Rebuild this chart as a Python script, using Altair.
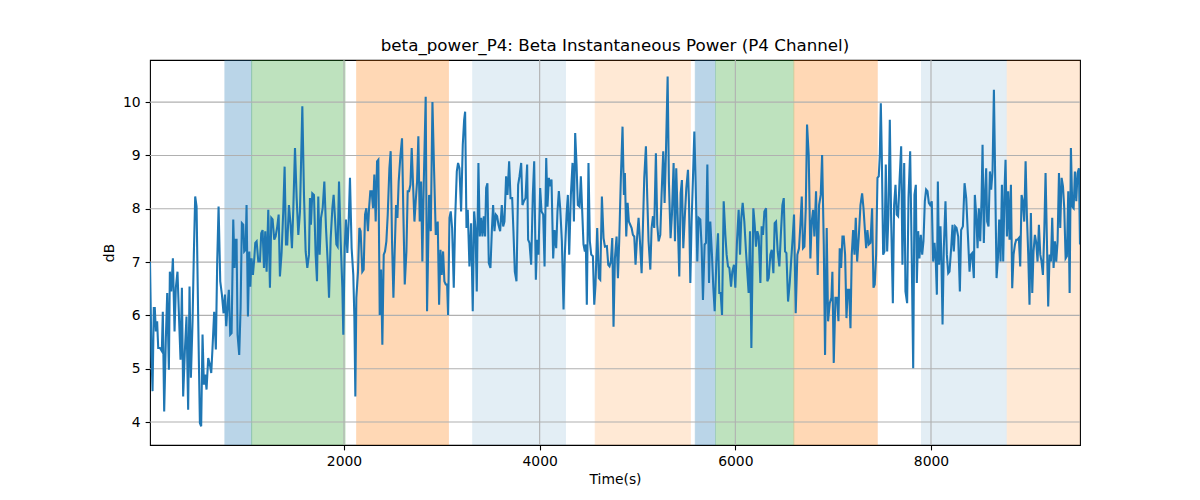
import altair as alt
import pandas as pd

# ---- line samples (time in s, power in dB) ----
seg1 = [(17,7.0),(32,5.26),(43,4.58),(56,6.14),(66,6.14),(77,5.7),(90,5.89),(101,5.39),(118,5.39),(128,5.36),
        (138,5.33),(148,6.07),(162,4.2),(179,5.57),(193,6.42),(210,4.98),(220,6.82),(234,6.45),(251,7.07),(268,5.7),
        (281,6.52),(298,6.82),(315,5.89),(329,5.17),(343,6.52),(356,4.48),(373,5.32),(390,5.98),(407,4.23),(421,6.54),
        (435,4.83),(452,5.89),(465,7.14),(479,8.23),(493,8.04),(510,5.89),(527,3.98),(540,3.92),(554,5.64),(568,4.7),
        (581,4.89),(595,4.61),(612,5.2),(629,5.08),(643,4.92),(656,5.39),(673,6.07),(690,5.36),(704,7.01),(718,8.04),
        (735,6.64),(752,6.39),(769,6.04),(783,6.39),(796,5.8),(810,6.17),(823,6.48),(837,5.64),(851,5.67),(868,7.8),
        (881,6.89),(892,7.42),(902,7.42),(912,5.64),(929,5.26),(943,6.14),(956,7.73),(970,7.7),(980,7.2),(994,7.23),
        (1004,8.07),(1018,5.98),(1032,7.2),(1042,6.54),(1055,7.07),(1069,6.76),(1083,7.07),(1093,7.36),(1107,7.39),
        (1124,7.01),(1141,7.01),(1154,7.54),(1168,7.6),(1182,6.89),(1195,7.58),(1209,6.82),(1226,7.98),(1243,6.52),
        (1257,7.83),(1270,7.8),(1287,7.42),(1301,7.48),(1318,7.67),(1332,7.89),(1345,6.73),(1362,7.17),(1379,7.95),
        (1393,8.79),(1407,7.33),(1420,7.33),(1437,8.07),(1454,7.7),(1468,7.26),(1482,8.01)]
seg2 = [(1499,9.14),(1516,8.2),(1533,7.51),(1550,7.95),(1574,9.92),(1591,8.26),(1608,7.2),(1625,6.89),(1642,7.14),
        (1652,8.2),(1662,7.7),(1676,8.29),(1693,8.26),(1710,7.14),(1724,6.64),(1737,8.23),(1751,7.14),(1765,7.83),
        (1782,8.01),(1799,8.51),(1816,7.64),(1833,7.01),(1847,6.33),(1864,7.45),(1881,8.01),(1894,8.26),(1908,7.83),
        (1922,7.33),(1935,7.29),(1949,8.51),(1966,7.39),(1983,6.52),(1993,5.64),(2007,7.26),(2020,7.8),(2034,7.17),
        (2048,7.76),(2061,8.58),(2078,7.26),(2095,6.76),(2106,5.95),(2116,4.48),(2126,6.33),(2143,6.82),(2157,7.64),
        (2170,7.58),(2187,6.82),(2201,6.86),(2215,7.89),(2228,8.01),(2245,7.58),(2256,8.01),(2269,8.33),(2283,8.33),
        (2297,8.01),(2310,8.64),(2324,7.76),(2338,8.89),(2351,8.92),(2365,6.01),(2379,6.86),(2392,5.45),(2406,7.14),
        (2419,7.2),(2433,7.39),(2447,7.89),(2464,8.76),(2477,9.08),(2491,7.39),(2505,6.33),(2518,7.2),(2532,8.07),
        (2546,7.83),(2559,8.51),(2576,8.98),(2593,9.32),(2607,7.89),(2621,6.58),(2638,7.2),(2651,8.33),(2665,8.33),
        (2679,8.45),(2692,9.14),(2706,8.45),(2720,7.76),(2733,8.14),(2747,8.51),(2760,9.36),(2774,7.76),(2788,8.51),
        (2801,7.01),(2815,8.45),(2835,10.1),(2849,6.08),(2870,8.26),(2887,7.58),(2904,10.0),(2921,8.7),(2938,7.51),
        (2958,7.76),(2972,6.2),(2986,7.23),(2999,6.76),(3013,7.2),(3026,6.64),(3040,6.58),(3054,6.58),(3064,6.01),
        (3078,7.83),(3091,7.95),(3105,7.64),(3122,6.52)]
seg3 = [(3136,7.8),(3153,8.7),(3166,8.86),(3180,8.76),(3197,7.95),(3214,9.2),(3228,9.67),(3238,9.82),(3252,7.64),
        (3265,7.98),(3282,6.92),(3299,7.73),(3316,6.08),(3330,7.95),(3344,7.64),(3357,6.45),(3374,8.86),(3388,7.48),
        (3402,7.83),(3415,7.48),(3429,7.86),(3442,7.48),(3453,8.39),(3466,8.48),(3480,6.98),(3497,6.89),(3511,7.58),
        (3524,8.07),(3538,7.58),(3552,7.89),(3565,7.86),(3579,7.7),(3596,7.58),(3613,8.07),(3627,7.67),(3640,7.76),
        (3657,8.61),(3671,8.26),(3688,8.89),(3702,8.2),(3719,8.2),(3732,7.58),(3746,6.82),(3763,6.64),(3780,8.45),
        (3794,8.61),(3811,8.86),(3824,8.07),(3838,8.14),(3855,8.2),(3872,8.83),(3882,7.42),(3896,7.36),(3913,6.95),
        (3930,8.26),(3944,8.89),(3961,6.67),(3974,7.42),(3988,7.14),(4005,8.39),(4019,7.95),(4036,7.89),(4050,6.92),
        (4067,8.95),(4080,8.04),(4094,8.58),(4107,8.42),(4121,8.55),(4138,7.07),(4152,7.6),(4169,7.26),(4182,7.95),
        (4196,8.33),(4210,8.01),(4227,7.39),(4244,6.11),(4257,7.14),(4275,7.89),(4288,8.26),(4302,7.14),(4319,8.26),
        (4336,8.86),(4350,7.76),(4363,9.42),(4377,8.83),(4390,8.07),(4408,8.04),(4421,8.61),(4435,7.95),(4448,7.33),
        (4462,7.2),(4472,7.33),(4482,6.2),(4499,8.86),(4513,7.39),(4527,7.14),(4544,7.11),(4558,6.2),(4571,6.58),
        (4588,7.64),(4605,6.7),(4619,6.67),(4636,8.23),(4653,7.45),(4667,7.29)]
seg4 = [(4687,7.3),(4701,6.95),(4714,6.92),(4728,7.01),(4742,7.45),(4755,5.79),(4769,7.07),(4786,7.48),(4800,6.7),
        (4813,7.39),(4830,8.58),(4847,9.54),(4861,8.26),(4871,8.67),(4885,7.48),(4899,8.11),(4912,7.76),(4926,7.7),
        (4940,7.64),(4953,7.51),(4967,7.48),(4980,6.95),(4994,7.42),(5011,7.83),(5025,7.39),(5042,6.79),(5056,7.7),
        (5069,8.58),(5086,9.17),(5100,8.2),(5113,7.39),(5131,6.86),(5144,7.64),(5158,7.86),(5171,7.64),(5188,9.04),
        (5202,7.7),(5216,7.39),(5233,7.51),(5246,8.26),(5263,9.08),(5277,8.11),(5291,9.08),(5308,10.48),(5321,8.51),
        (5338,7.45),(5352,7.89),(5369,8.86),(5383,7.39),(5396,8.76),(5410,7.89),(5427,6.73),(5441,8.29),(5454,8.54),
        (5468,7.26),(5482,7.8),(5499,8.39),(5516,8.73),(5526,8.14),(5540,6.61),(5553,7.76),(5567,8.58),(5581,9.45),
        (5594,8.51),(5611,7.01),(5625,7.83),(5642,7.8),(5656,7.26),(5669,6.29),(5686,7.33),(5700,7.36),(5714,8.83),
        (5731,6.61),(5744,7.76),(5761,7.14),(5775,6.52),(5789,6.08),(5806,7.01),(5823,7.54),(5836,6.42),(5850,6.42),
        (5864,6.01),(5881,8.14),(5898,7.51),(5911,7.14),(5925,6.92),(5939,6.89),(5956,6.54),(5969,6.82),(5986,6.95),
        (6000,6.52),(6017,7.39),(6034,7.98),(6048,7.14),(6061,7.83),(6075,8.11),(6092,7.76),(6109,7.2),(6123,6.79),
        (6136,6.42),(6150,7.58),(6164,5.39),(6184,8.01),(6198,7.7),(6211,7.29),(6225,7.58),(6239,7.48),(6256,6.61)]
seg5 = [(6269,7.67),(6283,7.51),(6297,7.95),(6314,8.01),(6327,6.64),(6341,6.7),(6358,7.14),(6372,7.23),(6389,6.79),
        (6402,7.73),(6416,7.76),(6433,7.2),(6450,6.92),(6467,7.58),(6481,8.07),(6495,8.2),(6508,7.2),(6522,7.17),
        (6539,6.26),(6556,6.61),(6570,7.01),(6587,7.48),(6600,7.89),(6617,6.04),(6634,7.14),(6651,7.26),(6665,7.7),
        (6679,8.23),(6692,7.26),(6706,7.29),(6720,8.01),(6733,9.58),(6750,9.01),(6767,7.07),(6781,7.76),(6795,7.98),
        (6808,7.48),(6825,8.33),(6842,6.76),(6856,8.07),(6873,8.26),(6887,9.01),(6904,7.33),(6917,5.26),(6934,7.64),
        (6948,5.89),(6965,6.23),(6982,6.33),(6992,6.82),(7006,5.11),(7023,6.33),(7040,6.33),(7054,5.89),(7067,7.26),
        (7081,6.89),(7095,7.48),(7108,7.48),(7122,7.14),(7136,5.95),(7149,6.48),(7163,6.48),(7177,5.76),(7190,7.14),
        (7204,7.6),(7218,7.14),(7231,7.83),(7245,7.01),(7262,7.48),(7279,8.07),(7296,8.29),(7310,8.01),(7323,7.64),
        (7337,7.26),(7350,7.6),(7364,7.33),(7381,7.36),(7398,8.01),(7412,6.52),(7425,6.58),(7439,7.14),(7453,8.58),
        (7466,8.61),(7477,9.01),(7487,9.98),(7497,9.01),(7511,7.14),(7524,7.2),(7538,8.83),(7552,7.2),(7565,7.89),
        (7579,9.67),(7593,7.76),(7610,6.23),(7623,8.07),(7637,8.45),(7650,7.89),(7664,7.86),(7678,8.51),(7695,9.17),
        (7708,6.95),(7726,8.86),(7739,6.45),(7756,6.23),(7770,8.2),(7787,9.08),(7801,7.39),(7818,5.01),(7831,8.26),
        (7845,8.45)]
seg6 = [(7855,6.61),(7869,7.58),(7882,7.07),(7896,7.51),(7910,7.14),(7923,7.39),(7937,8.14),(7950,8.36),(7964,8.33),
        (7978,8.11),(7991,8.07),(8008,8.14),(8022,7.01),(8036,7.36),(8049,7.01),(8060,6.39),(8070,8.51),(8083,6.95),
        (8097,7.67),(8107,7.01),(8118,5.83),(8131,7.26),(8148,8.14),(8162,7.14),(8176,6.79),(8189,6.82),(8206,7.26),
        (8220,7.7),(8233,7.2),(8247,7.67),(8261,7.64),(8278,7.48),(8295,6.45),(8308,7.6),(8326,7.67),(8343,8.48),
        (8360,8.2),(8377,7.51),(8394,6.82),(8407,7.14),(8421,7.17),(8438,6.7),(8448,8.26),(8462,7.89),(8476,7.26),
        (8489,8.01),(8503,7.39),(8517,8.2),(8527,9.2),(8540,7.36),(8551,8.2),(8564,8.76),(8574,7.76),(8588,7.67),
        (8602,8.7),(8615,8.36),(8629,8.7),(8643,10.23),(8656,8.58),(8670,6.7),(8684,7.07),(8697,7.8),(8711,7.01),
        (8725,8.45),(8738,7.01),(8752,8.39),(8762,8.92),(8776,7.48),(8789,8.33),(8803,7.42),(8817,8.45),(8830,6.51),
        (8844,7.14),(8858,7.33),(8871,7.42),(8885,7.42),(8898,7.45),(8912,6.92),(8926,8.26),(8939,8.14),(8953,7.76),
        (8967,8.89),(8980,7.89),(8994,7.14),(9007,6.2),(9021,7.92),(9035,6.42),(9048,7.2),(9062,7.51),(9076,7.36),
        (9089,7.01),(9103,7.7),(9117,7.14),(9130,7.01),(9144,6.76),(9158,7.58),(9171,8.67),(9185,7.39),(9198,6.17),
        (9212,7.14),(9226,7.01),(9239,7.83),(9253,6.89),(9267,7.39),(9280,7.01),(9294,7.39),(9308,8.67),(9321,7.64),
        (9335,8.58),(9349,8.42),(9362,8.01),(9376,7.07),(9389,7.11),(9403,8.33),(9417,6.42),(9430,9.14),(9444,8.04),
        (9458,8.01),(9471,8.7),(9485,8.14),(9498,8.67),(9512,8.76),(9523,7.33)]

# ---- shaded spans ----
span_start = [783, 1056, 2130, 3316, 4568, 5591, 5800, 6600, 7903, 8779]
span_end = [1056, 2010, 3067, 4264, 5540, 5795, 6597, 7450, 8769, 9523]
span_color = ["#1f77b4", "#2ca02c", "#ff7f0e", "#1f77b4", "#ff7f0e",
              "#1f77b4", "#2ca02c", "#ff7f0e", "#1f77b4", "#ff7f0e"]
span_alpha = [0.3, 0.3, 0.3, 0.12, 0.17, 0.3, 0.3, 0.3, 0.12, 0.17]

# ---- ticks ----
x_ticks = [2000, 4000, 6000, 8000]
y_ticks = [4, 5, 6, 7, 8, 9, 10]
x_domain = [17, 9523]
y_domain = [3.57, 10.79]

samples = seg1 + seg2 + seg3 + seg4 + seg5 + seg6
line_df = pd.DataFrame(samples, columns=["t", "db"])
span_df = pd.DataFrame({"t": span_start, "t_end": span_end,
                        "color": span_color, "alpha": span_alpha})
xt_df = pd.DataFrame({"t": x_ticks})
yt_df = pd.DataFrame({"db": y_ticks})

FONT = "DejaVu Sans"
xscale = alt.Scale(domain=x_domain, nice=False, zero=False)
yscale = alt.Scale(domain=y_domain, nice=False, zero=False)

axis_common = dict(
    domain=False, grid=False, tickColor="black", tickSize=4.9, tickWidth=1.1,
    labelFont=FONT, labelFontSize=13.9, labelColor="black", labelPadding=4.9,
    titleFont=FONT, titleFontSize=13.9, titleFontWeight="normal", titleColor="black",
)
x_axis = alt.Axis(values=x_ticks, title="Time(s)", format="d", titlePadding=4,
                  labelFlush=False, **axis_common)
y_axis = alt.Axis(values=y_ticks, title="dB", format="d", titlePadding=6, **axis_common)

X = alt.X("t:Q", scale=xscale, axis=x_axis)
Y = alt.Y("db:Q", scale=yscale, axis=y_axis)

spans = alt.Chart(span_df).mark_rect(clip=True, strokeWidth=1).encode(
    x=X,
    x2="t_end:Q",
    color=alt.Color("color:N", scale=None),
    stroke=alt.Color("color:N", scale=None),
    opacity=alt.Opacity("alpha:Q", scale=None),
)

xgrid = alt.Chart(xt_df).mark_rule(color="#b0b0b0", strokeWidth=1.1).encode(x=X)
ygrid = alt.Chart(yt_df).mark_rule(color="#b0b0b0", strokeWidth=1.1).encode(y=Y)

line = alt.Chart(line_df).mark_line(color="#1f77b4", strokeWidth=2.08, clip=True).encode(
    x=X, y=Y,
)

chart = alt.layer(spans, xgrid, ygrid, line).properties(
    width=930,
    height=385,
    autosize=alt.AutoSizeParams(type="none"),
    padding={"left": 142, "top": 52, "right": 112, "bottom": 47},
    background="white",
    title=alt.Title("beta_power_P4: Beta Instantaneous Power (P4 Channel)",
                    font=FONT, fontSize=16.7, fontWeight="normal", color="black",
                    anchor="middle", baseline="alphabetic", offset=-8),
).configure_view(stroke="black", strokeWidth=1.1)

chart.save("out.html", embed_options={"renderer": "svg", "actions": False})
